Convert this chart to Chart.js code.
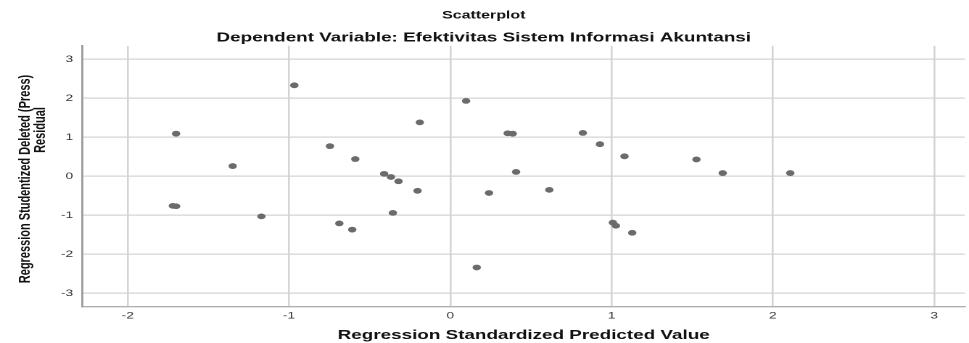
<!DOCTYPE html>
<html>
<head>
<meta charset="utf-8">
<script src="https://cdn.jsdelivr.net/npm/chart.js@4"></script>
<style>
  html, body { margin: 0; padding: 0; background: #fff; overflow: hidden; }
  /* the SPSS export is stretched sideways, so the chart is drawn narrow and widened */
  #wrap { width: 668px; height: 343px; transform: scaleX(1.4506); transform-origin: 0 0; }
</style>
</head>
<body>
<div id="wrap"><canvas id="chart" width="668" height="343"></canvas></div>
<script>
// predicted values (x) and deleted residuals (y)
const predicted = [
  -0.967, -1.70, -1.349, -0.746, -0.589, -1.72, -1.70, -1.171, -0.688, -0.608,
  0.098, -0.189, 0.356, 0.387, 0.822, 0.928, 1.080, -0.410, -0.368, -0.321,
  -0.203, 0.408, 0.240, 0.614, -0.356, 1.008, 1.027, 1.128, 0.164,
  1.526, 1.689, 2.108
];
const residuals = [
  2.33, 1.09, 0.26, 0.77, 0.44, -0.76, -0.77, -1.03, -1.21, -1.37,
  1.93, 1.38, 1.10, 1.09, 1.11, 0.82, 0.51, 0.06, -0.02, -0.13,
  -0.375, 0.11, -0.43, -0.35, -0.94, -1.19, -1.27, -1.45, -2.34,
  0.43, 0.08, 0.08
];
const xTicks = [-2, -1, 0, 1, 2, 3];
const yTicks = [-3, -2, -1, 0, 1, 2, 3];

const titleText = "Scatterplot";
const subtitleText = "Dependent Variable: Efektivitas Sistem Informasi Akuntansi";
const xTitle = "Regression Standardized Predicted Value";
const yTitle = ["Regression Studentized Deleted (Press)", "Residual"];

const points = predicted.map((x, i) => ({ x: x, y: residuals[i] }));

// y title drawn by hand: SPSS squeezes the first line and does not centre the second
const yTitlePlugin = {
  id: "yTitle",
  afterDraw(chart) {
    const ctx = chart.ctx;
    const spots = [[17.6, 179, 218], [27.8, 130, 60]];
    ctx.save();
    ctx.fillStyle = "#111";
    ctx.font = "bold 11px 'Liberation Sans', Arial, sans-serif";
    ctx.textAlign = "center";
    ctx.textBaseline = "middle";
    yTitle.forEach((line, i) => {
      const [x, y, w] = spots[i];
      ctx.save();
      ctx.translate(x, y);
      ctx.rotate(-Math.PI / 2);
      ctx.fillText(line, 0, 0, w);
      ctx.restore();
    });
    ctx.restore();
  },
};

new Chart(document.getElementById("chart"), {
  type: "scatter",
  data: {
    datasets: [{
      data: points,
      pointStyle: "circle",
      pointRadius: 2.9,
      pointHoverRadius: 2.9,
      pointBorderWidth: 0,
      backgroundColor: "#6b6b6b",
      borderColor: "#6b6b6b",
    }],
  },
  plugins: [yTitlePlugin],
  options: {
    responsive: false,
    animation: false,
    devicePixelRatio: 2,
    layout: { padding: { left: 0, right: 1, top: 0, bottom: 0 } },
    plugins: {
      legend: { display: false },
      tooltip: { enabled: false },
      title: {
        display: true,
        text: titleText,
        color: "#111",
        font: { family: "Liberation Sans", size: 11, weight: "bold" },
        padding: { top: 8.9, bottom: 8.2 },
      },
      subtitle: {
        display: true,
        text: subtitleText,
        color: "#111",
        font: { family: "Liberation Sans", size: 13, weight: "bold" },
        padding: { top: 0, bottom: 0 },
      },
    },
    scales: {
      x: {
        type: "linear",
        min: -2.28,
        max: 3.19,
        afterBuildTicks: (axis) => { axis.ticks = xTicks.map(v => ({ value: v })); },
        afterFit: (axis) => { axis.height = 36.5; },
        border: { color: "#b0b0b0", width: 1.4 },
        grid: { color: "#d4d4d4", lineWidth: 1.3, drawTicks: false },
        ticks: {
          color: "#333",
          font: { family: "Liberation Sans", size: 9.5 },
          padding: 3.5,
          maxRotation: 0,
        },
        title: {
          display: true,
          text: xTitle,
          color: "#111",
          font: { family: "Liberation Sans", size: 13, weight: "bold" },
          padding: { top: 0, bottom: 0 },
        },
      },
      y: {
        type: "linear",
        min: -3.34,
        max: 3.34,
        afterBuildTicks: (axis) => { axis.ticks = yTicks.map(v => ({ value: v })); },
        afterFit: (axis) => { axis.width = 56.9; },
        border: { color: "#9a9a9a", width: 1.4 },
        grid: { color: "#d4d4d4", lineWidth: 1.3, drawTicks: false },
        ticks: {
          color: "#333",
          font: { family: "Liberation Sans", size: 9.5 },
          padding: 6.5,
        },
        title: { display: false },
      },
    },
  },
});
</script>
</body>
</html>
